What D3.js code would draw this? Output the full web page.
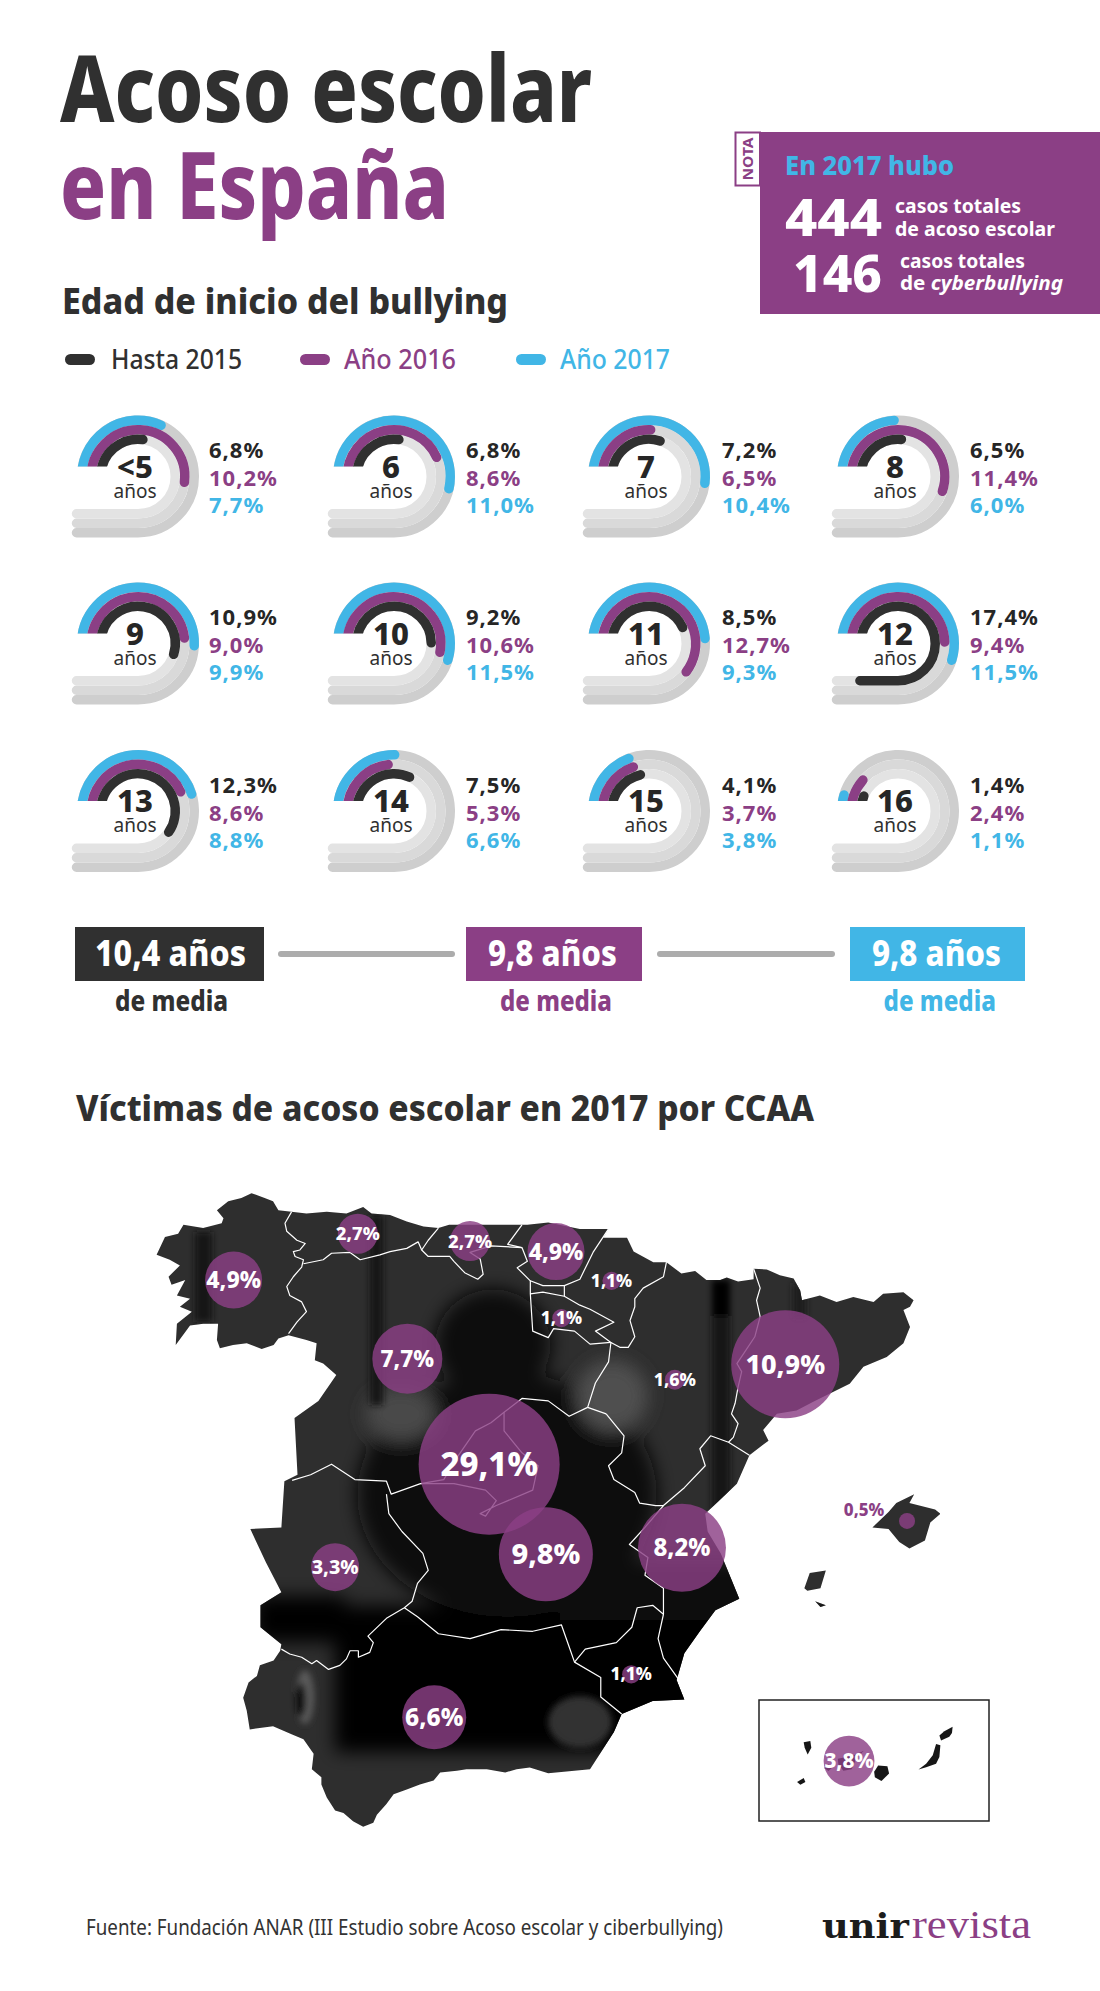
<!DOCTYPE html>
<html>
<head>
<meta charset="utf-8">
<title>Acoso escolar en España</title>
<script src="https://cdn.jsdelivr.net/npm/d3@7/dist/d3.min.js"></script>
<style>
  html, body { margin: 0; padding: 0; background: #fff; }
  svg { display: block; }
  text { font-family: "Noto Sans", "Open Sans", sans-serif; }
</style>
</head>
<body>
<div id="chart"></div>
<script>
// edad de inicio, % de casos
var ageLabels = ["<5", "6", "7", "8", "9", "10", "11", "12", "13", "14", "15", "16"];
var hasta2015 = [6.8, 6.8, 7.2, 6.5, 10.9, 9.2, 8.5, 17.4, 12.3, 7.5, 4.1, 1.4];
var anio2016 = [10.2, 8.6, 6.5, 11.4, 9.0, 10.6, 12.7, 9.4, 8.6, 5.3, 3.7, 2.4];
var anio2017 = [7.7, 11.0, 10.4, 6.0, 9.9, 11.5, 9.3, 11.5, 8.8, 6.6, 3.8, 1.1];
var seriesNames = ["Hasta 2015", "Año 2016", "Año 2017"];
var meanLabels = ["10,4 años", "9,8 años", "9,8 años"];

// victimas por CCAA: nombre, % y punto del mapa (lon, lat)
var regionNames = ["Galicia", "Asturias", "Cantabria", "País Vasco", "Navarra", "La Rioja", "Castilla y León", "Aragón", "Cataluña", "Madrid", "Castilla-La Mancha", "C. Valenciana", "Extremadura", "Andalucía", "Murcia", "Baleares"];
var regionValues = [4.9, 2.7, 2.7, 4.9, 1.1, 1.1, 7.7, 1.6, 10.9, 29.1, 9.8, 8.2, 3.3, 6.6, 1.1, 0.5];
var regionPoints = [[-8.05,42.73],[-5.97,43.30],[-4.09,43.21],[-2.65,43.08],[-1.72,42.72],[-2.56,42.26],[-5.14,41.76],[-0.66,41.50],[1.19,41.69],[-3.77,40.46],[-2.82,39.35],[-0.54,39.43],[-6.35,39.19],[-4.69,37.34],[-1.39,37.87],[3.23,39.76]];
var canaryValue = 3.8;
var canaryPoint = [-16.58, 28.29];

var peninsula = [[-7.08,43.57],[-6.83,43.55],[-6.49,43.57],[-6.16,43.55],[-5.88,43.63],[-5.74,43.55],[-5.43,43.53],[-5.15,43.45],[-4.87,43.39],[-4.62,43.37],[-4.44,43.41],[-4.00,43.41],[-3.48,43.41],[-3.13,43.41],[-2.78,43.44],[-2.25,43.36],[-1.77,43.36],[-1.86,43.25],[-1.46,43.25],[-1.35,43.08],[-1.02,42.95],[-0.80,42.95],[-0.55,42.81],[-0.32,42.84],[-0.13,42.73],[0.10,42.73],[0.21,42.76],[0.40,42.71],[0.66,42.74],[0.66,42.87],[0.88,42.86],[1.10,42.79],[1.33,42.75],[1.44,42.60],[1.47,42.48],[1.77,42.54],[2.05,42.46],[2.33,42.52],[2.67,42.46],[2.83,42.56],[3.17,42.58],[3.34,42.48],[3.28,42.40],[3.17,42.36],[3.28,42.15],[3.17,41.95],[2.89,41.78],[2.50,41.66],[2.27,41.45],[1.99,41.35],[1.66,41.23],[1.38,41.12],[1.05,41.08],[0.82,40.88],[0.91,40.75],[0.59,40.57],[0.38,40.22],[-0.15,39.85],[-0.11,39.63],[0.11,39.36],[0.42,38.80],[0.02,38.66],[-0.24,38.40],[-0.50,38.13],[-0.63,37.80],[-0.50,37.56],[-1.03,37.54],[-1.55,37.38],[-1.68,37.16],[-2.08,36.70],[-2.78,36.65],[-3.09,36.72],[-3.31,36.70],[-3.50,36.66],[-3.81,36.70],[-4.15,36.70],[-4.31,36.68],[-4.59,36.66],[-4.70,36.56],[-4.93,36.51],[-5.15,36.45],[-5.37,36.39],[-5.49,36.27],[-5.65,36.14],[-5.71,36.04],[-5.88,35.99],[-6.05,36.06],[-6.21,36.16],[-6.35,36.19],[-6.49,36.35],[-6.58,36.51],[-6.58,36.60],[-6.74,36.70],[-6.71,36.89],[-6.88,37.07],[-7.08,37.13],[-7.39,37.23],[-7.78,37.19],[-7.83,37.42],[-7.89,37.58],[-7.80,37.77],[-7.66,37.85],[-7.61,37.98],[-7.38,38.04],[-7.27,38.16],[-7.25,38.24],[-7.60,38.45],[-7.60,38.72],[-7.25,38.88],[-7.51,39.25],[-7.77,39.66],[-7.25,39.68],[-7.20,40.25],[-6.98,40.33],[-7.03,41.03],[-6.63,41.24],[-6.33,41.56],[-6.55,41.70],[-6.69,41.74],[-6.66,41.95],[-6.83,41.99],[-7.13,42.05],[-7.30,42.01],[-7.38,41.93],[-7.58,41.88],[-7.83,41.95],[-8.06,41.93],[-8.28,41.89],[-8.33,41.99],[-8.31,42.19],[-8.56,42.19],[-8.78,42.17],[-9.02,41.93],[-9.00,42.19],[-8.75,42.34],[-8.95,42.40],[-8.78,42.50],[-9.00,42.54],[-8.86,42.73],[-9.09,42.67],[-9.14,42.77],[-8.95,42.91],[-9.12,42.98],[-9.34,43.04],[-9.20,43.26],[-8.98,43.30],[-8.89,43.41],[-8.56,43.37],[-8.25,43.43],[-8.22,43.49],[-8.33,43.59],[-8.14,43.70],[-7.92,43.74],[-7.75,43.80],[-7.53,43.74],[-7.39,43.70],[-7.30,43.59]];
var balearics = [
  [[2.65,39.68],[2.92,39.87],[3.05,39.98],[3.35,40.09],[3.27,39.98],[3.70,39.90],[3.79,39.85],[3.62,39.74],[3.53,39.52],[3.27,39.42],[3.10,39.50],[2.92,39.66]],
  [[1.51,38.93],[1.60,39.12],[1.87,39.15],[1.78,38.93],[1.56,38.90]],
  [[1.69,38.77],[1.87,38.72],[1.78,38.70]],
  [[4.12,40.18],[4.32,40.28],[4.62,40.23],[4.57,40.06],[4.32,40.12]]
];
var canaries = [
  [[-18.15,27.72],[-17.95,27.83],[-17.90,27.72],[-18.05,27.65]],
  [[-17.95,28.80],[-17.75,28.83],[-17.72,28.65],[-17.83,28.47],[-17.92,28.65]],
  [[-17.33,28.10],[-17.20,28.20],[-17.10,28.10],[-17.20,28.02]],
  [[-16.92,28.35],[-16.50,28.43],[-16.13,28.57],[-16.35,28.38],[-16.50,28.07],[-16.75,28.03],[-16.90,28.20]],
  [[-15.82,28.00],[-15.70,28.17],[-15.42,28.15],[-15.37,27.95],[-15.60,27.75],[-15.80,27.85]],
  [[-14.50,28.05],[-14.25,28.22],[-14.05,28.45],[-13.95,28.75],[-13.82,28.72],[-13.85,28.40],[-13.95,28.22],[-14.25,28.12],[-14.48,28.06]],
  [[-13.85,28.98],[-13.70,29.10],[-13.45,29.22],[-13.47,29.05],[-13.55,28.95],[-13.80,28.85]]
];
var borders = [
  [[-7.08,43.57],[-7.19,43.43],[-7.16,43.33],[-6.99,43.22],[-6.85,43.18],[-6.94,43.10],[-7.05,43.08],[-7.02,43.02],[-6.88,42.98],[-6.91,42.89],[-7.05,42.77],[-7.16,42.65],[-7.11,42.54],[-6.91,42.46],[-6.83,42.34],[-6.99,42.21],[-7.13,42.07]],
  [[-6.88,42.93],[-6.55,42.98],[-6.41,43.06],[-6.10,43.07],[-5.93,42.98],[-5.60,43.04],[-5.43,43.08],[-5.15,43.12],[-4.96,43.20],[-4.90,43.10]],
  [[-4.62,43.37],[-4.79,43.22],[-4.90,43.10],[-4.79,43.02],[-4.43,43.02],[-4.36,42.96],[-4.18,42.82],[-3.96,42.74],[-3.87,42.80],[-3.92,42.99],[-4.09,43.07],[-3.74,43.15],[-3.22,43.13]],
  [[-3.22,43.41],[-3.46,43.17],[-3.22,43.13],[-3.13,42.96],[-3.30,42.88],[-3.08,42.72],[-2.87,42.66],[-2.51,42.66],[-2.25,42.74],[-2.03,43.07],[-1.77,43.36]],
  [[-3.08,42.72],[-3.08,42.56],[-3.04,42.10],[-2.78,42.02],[-2.69,42.13],[-2.34,42.10],[-2.08,41.94],[-1.73,41.96],[-1.99,42.10],[-1.68,42.21],[-2.08,42.37],[-2.25,42.42],[-2.51,42.53],[-2.87,42.58],[-3.08,42.56]],
  [[-2.51,42.66],[-2.51,42.53]],
  [[-0.80,42.95],[-0.85,42.77],[-1.19,42.63],[-1.33,42.50],[-1.33,42.40],[-1.41,42.23],[-1.33,42.03],[-1.44,41.90],[-1.58,41.90],[-1.73,41.96],[-1.77,41.72],[-1.99,41.46],[-2.12,41.16],[-1.81,41.08]],
  [[-2.12,41.16],[-2.43,41.05],[-2.78,41.24],[-3.22,41.27],[-3.52,41.10],[-3.74,40.97],[-4.00,40.87],[-4.31,40.54],[-4.53,40.27],[-4.92,40.22],[-5.41,40.09],[-5.49,40.25],[-6.02,40.27],[-6.41,40.46],[-6.76,40.33],[-7.07,40.26]],
  [[-3.52,41.10],[-3.52,40.87],[-3.22,40.60],[-2.95,40.44],[-3.04,40.14],[-3.65,39.95],[-3.92,39.85],[-3.83,39.82],[-3.65,40.01],[-3.83,40.14],[-4.36,40.22],[-4.92,40.22]],
  [[-5.49,40.09],[-5.45,39.85],[-5.23,39.63],[-4.88,39.36],[-4.79,39.15],[-4.97,38.99],[-5.06,38.77],[-5.19,38.69],[-5.49,38.56],[-5.80,38.34],[-5.71,38.26],[-5.77,38.14],[-5.96,38.08],[-5.96,38.16],[-6.10,38.16],[-6.16,38.06],[-6.27,37.98],[-6.46,37.93],[-6.66,38.04],[-6.74,38.00],[-6.91,38.08],[-7.11,38.12],[-7.25,38.18]],
  [[-5.19,38.69],[-4.97,38.58],[-4.62,38.37],[-4.09,38.31],[-3.57,38.42],[-3.04,38.40],[-2.56,38.48],[-2.43,38.21],[-2.34,38.02],[-1.90,37.83],[-1.90,37.59],[-1.55,37.38]],
  [[-2.34,38.02],[-2.16,38.18],[-1.64,38.26],[-1.38,38.45],[-1.29,38.69],[-1.03,38.72],[-0.85,38.61],[-0.94,38.31],[-0.85,38.07],[-0.59,37.80]],
  [[0.59,40.57],[0.24,40.73],[-0.06,40.81],[-0.24,40.65],[-0.15,40.44],[-0.50,40.17],[-0.85,39.95],[-1.16,39.68],[-1.42,39.47],[-1.11,39.31],[-1.16,39.09],[-0.85,38.93],[-0.85,38.61]],
  [[0.66,42.87],[0.77,42.63],[0.71,42.48],[0.77,42.28],[0.68,42.03],[0.49,41.82],[0.38,41.70],[0.46,41.60],[0.40,41.41],[0.35,41.21],[0.29,41.08],[0.40,40.96],[0.32,40.79],[0.24,40.73]],
  [[-1.81,41.08],[-1.51,40.81],[-1.55,40.60],[-1.77,40.44],[-1.68,40.27],[-1.33,40.11],[-1.25,39.98],[-0.98,39.95],[-0.85,39.95]]
];

var DARK = "#303030", PURPLE = "#8b3f85", BLUE = "#41b6e6";
var seriesColors = [DARK, PURPLE, BLUE];

var svg = d3.select("#chart").append("svg").attr("width", 1100).attr("height", 1991);
var defs = svg.append("defs");

// texto con ancho ajustado al de la referencia
function label(parent, x, y, str, size, color, opts) {
  opts = opts || {};
  var t = parent.append("text")
    .attr("x", x).attr("y", y)
    .attr("font-size", size)
    .attr("font-weight", opts.weight || 700)
    .attr("fill", color)
    .attr("text-anchor", opts.anchor || "start")
    .text(str);
  if (opts.family) t.style("font-family", opts.family);
  if (opts.width) t.attr("textLength", opts.width).attr("lengthAdjust", "spacingAndGlyphs");
  return t;
}

/* cabecera */
label(svg, 60, 122, "Acoso escolar", 92, DARK, {width: 532, weight: 800});
label(svg, 60, 219, "en España", 92, PURPLE, {width: 389, weight: 800});
label(svg, 62, 314, "Edad de inicio del bullying", 36, DARK, {width: 446, weight: 800});

var legendX = [65, 300, 516];
var legendText = [[111, 131], [344, 112], [560, 110]];
seriesNames.forEach(function (name, i) {
  svg.append("rect").attr("x", legendX[i]).attr("y", 354).attr("width", 30).attr("height", 11).attr("rx", 5.5).attr("fill", seriesColors[i]);
  label(svg, legendText[i][0], 369, name, 27, seriesColors[i], {weight: 500, width: legendText[i][1]});
});

/* nota */
svg.append("rect").attr("x", 760).attr("y", 132).attr("width", 340).attr("height", 182).attr("fill", PURPLE);
svg.append("rect").attr("x", 735.5).attr("y", 132.5).attr("width", 24.5).attr("height", 53).attr("fill", "#fff").attr("stroke", PURPLE).attr("stroke-width", 2);
label(svg, 0, 0, "NOTA", 15, PURPLE, {anchor: "middle", width: 43}).attr("transform", "translate(753,159) rotate(-90)");
label(svg, 785, 175, "En 2017 hubo", 27, BLUE, {width: 169, weight: 800});
label(svg, 785, 236, "444", 52, "#fff", {width: 97, weight: 800});
label(svg, 793, 292, "146", 52, "#fff", {width: 89, weight: 800});
label(svg, 895, 213, "casos totales", 20, "#fff", {width: 126});
label(svg, 895, 236, "de acoso escolar", 20, "#fff", {width: 160});
label(svg, 900, 268, "casos totales", 20, "#fff", {width: 125});
var cyber = label(svg, 900, 290, "de ", 20, "#fff", {width: 163});
cyber.append("tspan").attr("font-style", "italic").text("cyberbullying");

/* medidores */
var gaugeCx = [138, 394, 649, 898];
var gaugeCy = [476.5, 643.5, 811];
var textX = [209, 466, 722, 970];
var ringR = [37.25, 46.75, 56.25];
var ringW = 9.5;
var cut = 10;
// grados de arco recorridos segun el valor, calibrado sobre el dibujo
var arcScale = d3.scaleLinear()
  .domain([0, 1.4, 2.4, 3.7, 6.8, 7.7, 9, 9.9, 11.5, 12.7, 17.4])
  .range([0, 8, 29, 58, 82, 104, 161, 172, 187, 205, 313]);
var pct = d3.formatLocale({decimal: ",", thousands: ".", grouping: [3], currency: ["", "€"]}).format(".1f");

defs.append("clipPath").attr("id", "gaugeClip").selectAll("rect")
  .data([[-72, -72, 144, 72 - cut], [0, -72, 72, 144], [-72, 27, 144, 45]])
  .enter().append("rect")
  .attr("x", function (d) { return d[0]; }).attr("y", function (d) { return d[1]; })
  .attr("width", function (d) { return d[2]; }).attr("height", function (d) { return d[3]; });

function ringPath(r, degrees) {
  var a0 = Math.asin(cut / r);
  var from = Math.PI + a0 - 0.25;
  var total = a0 + degrees * Math.PI / 180;
  var p = d3.path();
  p.moveTo(r * Math.cos(from), r * Math.sin(from));
  if (total <= 1.5 * Math.PI) {
    p.arc(0, 0, r, from, Math.PI + total);
  } else {
    p.arc(0, 0, r, from, 2.5 * Math.PI);
    p.lineTo(-(total - 1.5 * Math.PI) * r, r);
  }
  return p.toString();
}

function trackPath(r) {
  var a0 = Math.asin(cut / r);
  var from = Math.PI + a0 - 0.25;
  var p = d3.path();
  p.moveTo(r * Math.cos(from), r * Math.sin(from));
  p.arc(0, 0, r, from, 2.5 * Math.PI);
  p.lineTo(-61.5, r);
  return p.toString();
}

var trackColors = ["#e3e3e3", "#d9d9d9", "#cecece"];
var gauges = svg.append("g").selectAll("g")
  .data(ageLabels)
  .enter().append("g")
  .attr("transform", function (d, i) { return "translate(" + gaugeCx[i % 4] + "," + gaugeCy[Math.floor(i / 4)] + ")"; });

gauges.each(function (age, i) {
  var g = d3.select(this);
  var rings = g.append("g").attr("clip-path", "url(#gaugeClip)");
  [2, 1, 0].forEach(function (k) {
    rings.append("path").attr("d", trackPath(ringR[k])).attr("fill", "none")
      .attr("stroke", trackColors[k]).attr("stroke-width", ringW).attr("stroke-linecap", "round");
  });
  var vals = [hasta2015[i], anio2016[i], anio2017[i]];
  [2, 1, 0].forEach(function (k) {
    rings.append("path").attr("d", ringPath(ringR[k], arcScale(vals[k]))).attr("fill", "none")
      .attr("stroke", seriesColors[k]).attr("stroke-width", ringW).attr("stroke-linecap", "round");
  });
  // edad y "años" van en un mismo texto de dos lineas
  var ageText = label(g, -3, 1, age, 31, "#262626", {anchor: "middle", weight: 800});
  ageText.append("tspan").attr("x", -3).attr("dy", 20).attr("font-size", 19).attr("font-weight", 400).attr("fill", "#303030").text("años");
  var offs = [-18.5, 9.5, 36.5];
  vals.forEach(function (v, k) {
    label(g, textX[i % 4] - gaugeCx[i % 4], offs[k], pct(v) + "%", 22, seriesColors[k] === DARK ? "#262626" : seriesColors[k], {weight: 700})
      .attr("letter-spacing", 1);
  });
});

/* medias */
var meanBox = [[75, 189], [466, 176], [850, 175]];
var meanText = [[95, 151], [488, 129], [872, 129]];
var meanSub = [[115, 113], [500, 112], [883.5, 112.5]];
meanLabels.forEach(function (m, i) {
  svg.append("rect").attr("x", meanBox[i][0]).attr("y", 927).attr("width", meanBox[i][1]).attr("height", 54).attr("fill", seriesColors[i]);
  label(svg, meanText[i][0], 966, m, 36, "#fff", {width: meanText[i][1], weight: 800});
  label(svg, meanSub[i][0], 1011, "de media", 28, seriesColors[i], {width: meanSub[i][1], weight: 800});
});
[[281, 452], [660, 832]].forEach(function (s) {
  svg.append("line").attr("x1", s[0]).attr("x2", s[1]).attr("y1", 954).attr("y2", 954)
    .attr("stroke", "#acacac").attr("stroke-width", 6).attr("stroke-linecap", "round");
});

label(svg, 76, 1121, "Víctimas de acoso escolar en 2017 por CCAA", 36, DARK, {width: 738, weight: 800});

/* mapa */
var mapX = d3.scaleLinear().domain([-9.3, 3.33]).range([159, 913]);
var mapY = d3.scaleLinear().domain([43.79, 36.0]).range([1194, 1826]);
var mapLine = d3.line().x(function (d) { return mapX(d[0]); }).y(function (d) { return mapY(d[1]); });
var insetX = d3.scaleLinear().domain([-17.85, -13.65]).range([807, 946]);
var insetY = d3.scaleLinear().domain([29.05, 27.75]).range([1733, 1781]);
var insetLine = d3.line().x(function (d) { return insetX(d[0]); }).y(function (d) { return insetY(d[1]); });

function blur(id, dev) {
  defs.append("filter").attr("id", id).attr("filterUnits", "userSpaceOnUse")
    .attr("x", 100).attr("y", 1150).attr("width", 900).attr("height", 720)
    .append("feGaussianBlur").attr("stdDeviation", dev);
}
blur("soft", 9);
blur("softer", 3);
var clip = defs.append("clipPath").attr("id", "spainClip");
clip.append("path").attr("d", mapLine(peninsula) + "Z");
balearics.forEach(function (b) { clip.append("path").attr("d", mapLine(b) + "Z"); });

var photo = svg.append("g").attr("clip-path", "url(#spainClip)");
photo.append("rect").attr("x", 140).attr("y", 1180).attr("width", 800).attr("height", 660).attr("fill", "#2e2e2e");

// la foto de fondo, en manchas difuminadas
var patches = photo.append("g").attr("filter", "url(#soft)");
[[335, 1606, 640, 146, "#030303"], [255, 1596, 90, 46, "#040404"], [560, 1560, 200, 60, "#070707"]].forEach(function (p) {
  patches.append("rect").attr("x", p[0]).attr("y", p[1]).attr("width", p[2]).attr("height", p[3]).attr("fill", p[4]);
});
[[507, 1495, 150, 122, "#090909"], [493, 1344, 58, 55, "#070707"],
 [401, 1414, 36, 27, "#4a4a4a"], [612, 1396, 36, 36, "#4f4f4f"]].forEach(function (p) {
  patches.append("ellipse").attr("cx", p[0]).attr("cy", p[1]).attr("rx", p[2]).attr("ry", p[3]).attr("fill", p[4]);
});
var details = photo.append("g").attr("filter", "url(#softer)");
[[712, 1280, 18, 250, "#191919"], [712, 1280, 16, 36, "#050505"], [370, 1215, 13, 190, "#191919"],
 [195, 1232, 17, 90, "#171717"], [793, 1283, 13, 35, "#1c1c1c"]].forEach(function (p) {
  details.append("rect").attr("x", p[0]).attr("y", p[1]).attr("width", p[2]).attr("height", p[3]).attr("fill", p[4]);
});
// oreja y zapatilla
[[305, 1697, 9, 27, "#5a5a5a"], [301, 1700, 5, 17, "#0a0a0a"], [580, 1722, 32, 26, "#333"]].forEach(function (p) {
  details.append("ellipse").attr("cx", p[0]).attr("cy", p[1]).attr("rx", p[2]).attr("ry", p[3]).attr("fill", p[4]);
});

svg.append("g").selectAll("path").data(borders).enter().append("path")
  .attr("d", mapLine).attr("fill", "none").attr("stroke", "#fff").attr("stroke-width", 1.2).attr("stroke-linejoin", "round");

/* recuadro de Canarias */
svg.append("rect").attr("x", 759).attr("y", 1700).attr("width", 230).attr("height", 121).attr("fill", "none").attr("stroke", "#222").attr("stroke-width", 1.5);
svg.append("g").selectAll("path").data(canaries).enter().append("path")
  .attr("d", function (d) { return insetLine(d) + "Z"; }).attr("fill", "#161616");

// radio y letra de burbuja segun el valor, calibrado sobre el dibujo
var bubbleR = d3.scaleLinear()
  .domain([0.5, 1.6, 2.7, 3.3, 4.9, 6.6, 7.7, 8.2, 9.8, 10.9, 29.1])
  .range([8, 10, 20, 24, 28.5, 32, 35, 44, 47, 54, 70.5]);
var bubbleFont = d3.scaleLinear()
  .domain([0.5, 2.7, 4.9, 6.6, 7.7, 8.2, 9.8, 10.9, 29.1])
  .range([17, 18.5, 23, 24.5, 22.5, 24, 29, 27, 33]);

var bubbles = regionNames.map(function (name, i) {
  return {name: name, value: regionValues[i], x: mapX(regionPoints[i][0]), y: mapY(regionPoints[i][1])};
});
bubbles.push({name: "Canarias", value: canaryValue, x: insetX(canaryPoint[0]), y: insetY(canaryPoint[1])});

var bubbleG = svg.append("g");
bubbleG.selectAll("circle").data(bubbles).enter().append("circle")
  .attr("cx", function (d) { return d.x; })
  .attr("cy", function (d) { return d.y; })
  .attr("r", function (d) { return bubbleR(d.value); })
  .attr("fill", PURPLE).attr("fill-opacity", 0.82);
bubbleG.selectAll("text").data(bubbles).enter().append("text")
  .attr("x", function (d) { return d.name === "Baleares" ? d.x - 43 : d.x; })
  .attr("y", function (d) { return d.name === "Baleares" ? d.y - 11 : d.y; })
  .attr("dy", "0.35em")
  .attr("text-anchor", "middle")
  .attr("font-weight", 800)
  .attr("font-size", function (d) { return bubbleFont(d.value); })
  .attr("fill", function (d) { return d.name === "Baleares" ? PURPLE : "#fff"; })
  .text(function (d) { return pct(d.value) + "%"; });

/* pie */
label(svg, 86, 1935, "Fuente: Fundación ANAR (III Estudio sobre Acoso escolar y ciberbullying)", 22, "#333", {weight: 400, width: 637});
label(svg, 822, 1938, "unir", 33, "#1c1c1c", {family: "'DejaVu Serif', serif", width: 87});
label(svg, 912, 1938, "revista", 40, PURPLE, {family: "'Liberation Serif', serif", weight: 400, width: 119});
</script>
</body>
</html>
